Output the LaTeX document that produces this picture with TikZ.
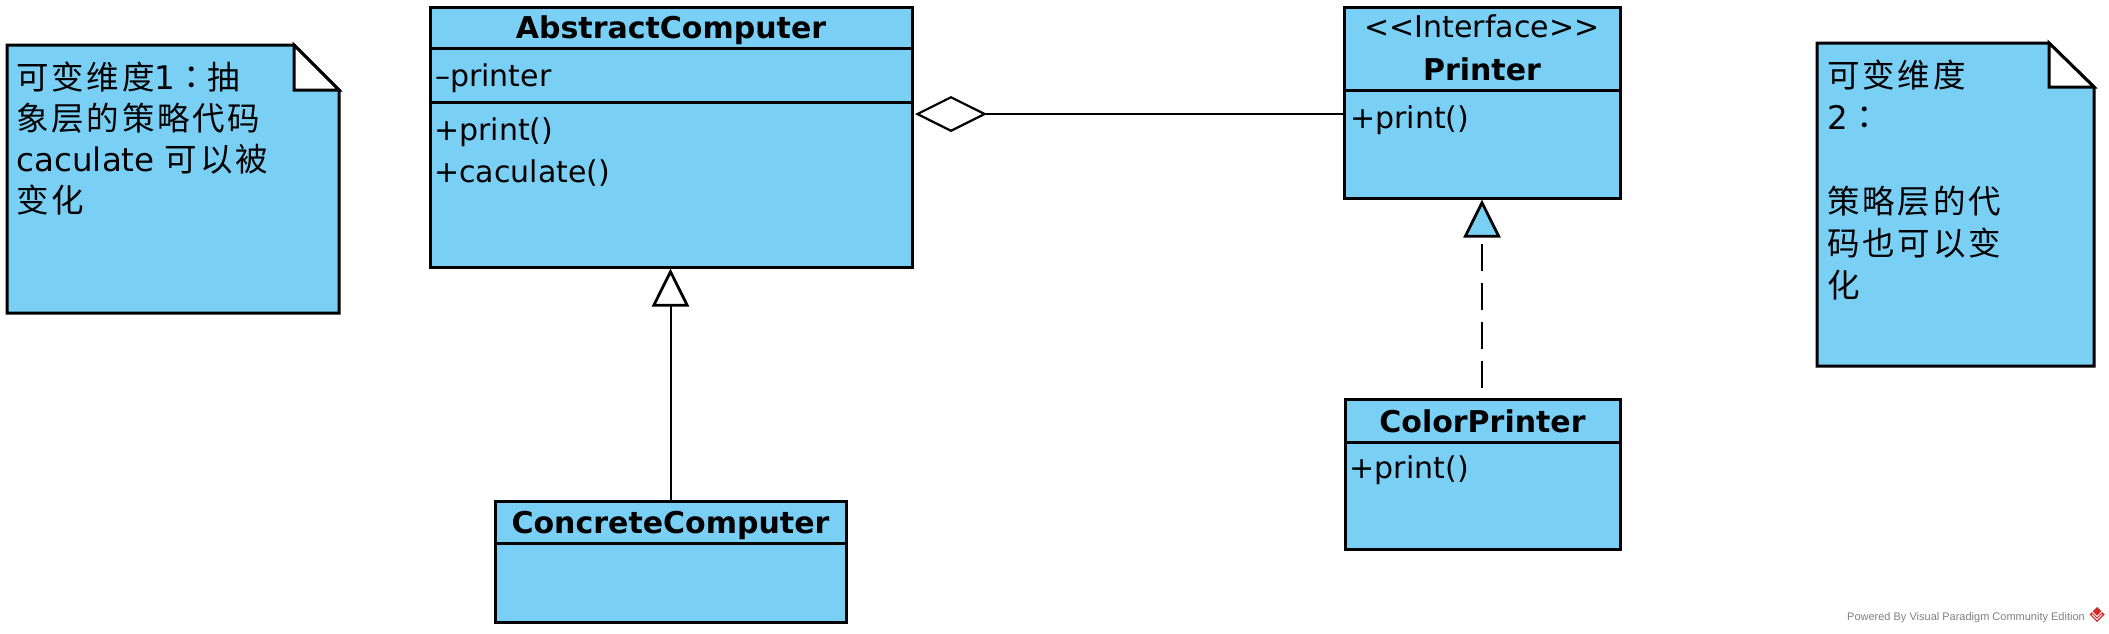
\documentclass[tikz,border=0pt]{standalone}
\usepackage{fontspec}
\usepackage{graphicx}
\setmainfont{DejaVu Sans}
\newfontfamily\cjk[LetterSpace=8]{Noto Sans CJK SC}
\newfontfamily\cjkp[LetterSpace=8]{Noto Sans CJK TC}
\newfontfamily\footfont{Liberation Sans}
\usetikzlibrary{arrows.meta}
\definecolor{vpblue}{RGB}{122,207,245}
\definecolor{vpgrey}{RGB}{128,128,128}
\definecolor{vpred}{RGB}{214,40,40}
\begin{document}
\begin{tikzpicture}[x=1pt,y=-1pt,
  classbox/.style={draw=black, line width=3pt, fill=vpblue, rectangle, inner sep=0pt},
  divider/.style={line width=3pt},
  title/.style={anchor=base, inner sep=0pt, font=\fontsize{30}{36}\selectfont\bfseries},
  member/.style={anchor=base west, inner sep=0pt, font=\fontsize{30}{36}\selectfont},
  notebody/.style={fill=vpblue, draw=black, line width=3pt, line join=miter},
  notefold/.style={fill=white, draw=black, line width=3pt, line join=miter},
  notetext/.style={anchor=base west, inner sep=0pt, align=left, font=\fontsize{32.5}{#1}\selectfont},
  conn/.style={line width=2pt, draw=black},
]
\useasboundingbox (0,0) rectangle (2109,633);
\fill[white] (0,0) rectangle (2109,633);

% notes
\filldraw[notebody] (7,45) -- (294,45) -- (339,90) -- (339,313) -- (7,313) -- cycle;
\filldraw[notefold] (294,45) -- (339,90) -- (294,90) -- cycle;
\node[notetext=41pt] (n1) at (16.5,89) {\begin{tabular}[t]{@{}l@{}}{\cjk 可变维度}1{\cjkp ：}{\cjk 抽}\\{\cjk 象层的策略代码}\\caculate {\cjk 可以被}\\{\cjk 变化}\end{tabular}};

\filldraw[notebody] (1817,43) -- (2049,43) -- (2094,87) -- (2094,366) -- (1817,366) -- cycle;
\filldraw[notefold] (2049,43) -- (2094,87) -- (2049,87) -- cycle;
\node[notetext=42pt] (n2) at (1827.5,87) {\begin{tabular}[t]{@{}l@{}}{\cjk 可变维度}\\2{\cjkp ：}\\ \\{\cjk 策略层的代}\\{\cjk 码也可以变}\\{\cjk 化}\end{tabular}};

% classes
\node[classbox, minimum width=482pt, minimum height=260pt] (ac) at (671,137) {};
\draw[divider] (430,48) -- (912,48);
\draw[divider] (430,102) -- (912,102);
\node[title] (act) at (671,38) {AbstractComputer};
\node[member] (ac1) at (435,86) {–printer};
\node[member] (ac2) at (434,140) {+print()};
\node[member] (ac3) at (434,182) {+caculate()};

\node[classbox, minimum width=276pt, minimum height=191pt] (pr) at (1482,102.5) {};
\draw[divider] (1344,90) -- (1620,90);
\node[title, font=\fontsize{30}{36}\selectfont] (prs) at (1482,37) {<\kern0pt<Interface>\kern0pt>};
\node[title] (prt) at (1482,80) {Printer};
\node[member] (pr1) at (1350,128) {+print()};

\node[classbox, minimum width=351pt, minimum height=121pt] (cc) at (670.5,561.5) {};
\draw[divider] (495,543) -- (846,543);
\node[title] (cct) at (670.5,533) {ConcreteComputer};

\node[classbox, minimum width=275pt, minimum height=150pt] (cp) at (1482.5,474) {};
\draw[divider] (1345,442) -- (1620,442);
\node[title] (cpt) at (1482.5,432) {ColorPrinter};
\node[member] (cp1) at (1349.5,478) {+print()};

% connectors
\draw[conn, {Diamond[open, fill=white, length=72pt, width=36pt, line width=2.2pt]}-, shorten <=1.5pt]
  ([yshift=23pt]ac.east) -- ([yshift=-11.5pt]pr.west);
\draw[conn, -{Triangle[open, fill=white, length=38pt, width=37pt, line width=2.75pt]}]
  (cc.north) -- (cc.north |- ac.south);
\draw[conn, dash pattern=on 27pt off 12pt, dash phase=32pt,
  {Triangle[open, fill=vpblue, length=38pt, width=37pt, line width=2.75pt]}-]
  (pr.south) -- (pr.south |- cp.north);

% footer
\node[anchor=base east, inner sep=0pt, text=vpgrey, font=\footfont\fontsize{11}{13}\selectfont] (foot) at (2085,620) {Powered By Visual Paradigm Community Edition};
\fill[vpred] (2097,607) -- (2104.5,614.5) -- (2097,622) -- (2089.5,614.5) -- cycle;
\draw[white, line width=0.8pt] (2092,614.5) -- (2097,619.5) -- (2102,614.5);
\draw[white, line width=0.8pt] (2092,611.5) -- (2097,616.5) -- (2102,611.5);
\end{tikzpicture}
\end{document}
